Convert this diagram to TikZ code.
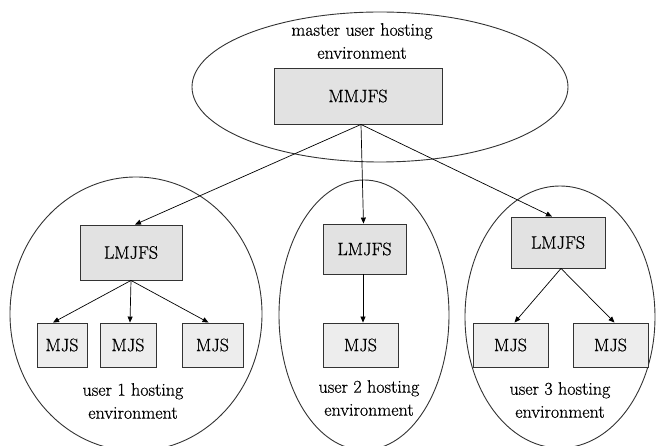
\documentclass[tikz,border=0pt]{standalone}
\usepackage{fontspec}
\newfontfamily\lblfont[FakeBold=0.6]{Latin Modern Roman}
\usetikzlibrary{arrows.meta}
\definecolor{lmfill}{HTML}{E2E2E2}
\definecolor{mjfill}{HTML}{EDEDED}
\definecolor{edge}{HTML}{333333}
\begin{document}
\begin{tikzpicture}[x=1pt,y=-1pt,
  lbl/.style={font=\lblfont\fontsize{18}{23}\selectfont, align=center, inner sep=0pt},
  box/.style={draw=edge, line width=0.9pt, inner sep=0pt,
              font=\lblfont\fontsize{18}{23}\selectfont},
  lmbox/.style={box, fill=lmfill},
  mjbox/.style={box, fill=mjfill, minimum height=44pt},
  env/.style={draw=edge, line width=0.9pt},
  link/.style={draw=black, line width=0.7pt, -{Triangle[length=6pt,width=5pt]}}]
\useasboundingbox (0,0) rectangle (657,446);

% hosting environments
\draw[env] (380,87) ellipse [x radius=188pt, y radius=75pt];
\draw[env] (136,314) ellipse [x radius=126pt, y radius=137pt];
\draw[env] (364,315) ellipse [x radius=85pt, y radius=135pt];
\draw[env] (560,317) ellipse [x radius=95pt, y radius=131pt];

% environment labels
\node[lbl] (tmaster) at (362,41) {master user hosting\\environment};
\node[lbl] (tuser1) at (133,401) {user 1 hosting\\environment};
\node[lbl] (tuser2) at (369,398) {user 2 hosting\\environment};
\node[lbl] (tuser3) at (560,400) {user 3 hosting\\environment};

% factory services
\node[lmbox, minimum width=168pt, minimum height=56pt] (mm) at (358,96) {MMJFS};
\node[lmbox, minimum width=102pt, minimum height=55pt] (lm1) at (131,252.5) {LMJFS};
\node[lmbox, minimum width=83pt, minimum height=50pt] (lm2) at (364.5,249) {LMJFS};
\node[lmbox, minimum width=94pt, minimum height=51pt] (lm3) at (558,242.5) {LMJFS};

% job services
\node[mjbox, minimum width=50pt] (j1a) at (62,345) {MJS};
\node[mjbox, minimum width=56pt] (j1b) at (128,345) {MJS};
\node[mjbox, minimum width=61pt] (j1c) at (212.5,345) {MJS};
\node[mjbox, minimum width=75pt] (j2) at (360.5,345) {MJS};
\node[mjbox, minimum width=75pt] (j3a) at (510.5,345) {MJS};
\node[mjbox, minimum width=75pt] (j3b) at (610.5,345) {MJS};

% connectors
\draw[link] ([xshift=3pt]mm.south) -- ([xshift=4pt]lm1.north);
\draw[link] ([xshift=3pt]mm.south) -- ([xshift=-1pt]lm2.north);
\draw[link] ([xshift=3pt]mm.south) -- ([xshift=-6pt]lm3.north);

\draw[link] (lm1.south) -- ([xshift=-9pt]j1a.north);
\draw[link] (lm1.south) -- ([xshift=2pt]j1b.north);
\draw[link] (lm1.south) -- ([xshift=-4pt]j1c.north);

\draw[link] ([xshift=-1.5pt]lm2.south) -- ([xshift=2.5pt]j2.north);

\draw[link] ([xshift=3pt]lm3.south) -- ([xshift=4pt]j3a.north);
\draw[link] ([xshift=3pt]lm3.south) -- ([xshift=4pt]j3b.north);
\end{tikzpicture}
\end{document}
